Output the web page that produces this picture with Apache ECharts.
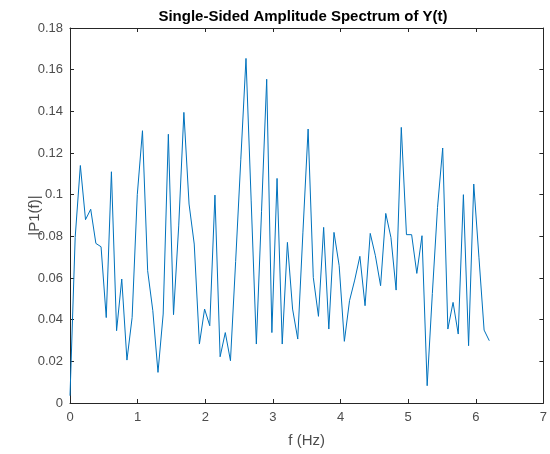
<!DOCTYPE html>
<html>
<head>
<meta charset="utf-8">
<title>Single-Sided Amplitude Spectrum of Y(t)</title>
<script src="https://cdn.jsdelivr.net/npm/echarts@6/dist/echarts.min.js"></script>
<style>
  html, body { margin: 0; padding: 0; background: #fff; }
  #chart { width: 550px; height: 454px; }
</style>
</head>
<body>
<div id="chart"></div>
<script>
// frequency step of the one-sided spectrum (82 bins, 0 .. 6.2 Hz)
var binCount = 82;
var df = 6.2 / 81;

// |P1(f)|, one value per bin
var amps = [
  0.0035, 0.0795, 0.114, 0.088, 0.093, 0.0766, 0.075, 0.041, 0.111, 0.0347,
  0.0595, 0.0206, 0.041, 0.100, 0.1307, 0.0635, 0.0443, 0.0147, 0.0427, 0.129,
  0.0424, 0.085, 0.1395, 0.0955, 0.0763, 0.0283, 0.0451, 0.0371, 0.0998, 0.0222,
  0.0338, 0.0203, 0.068, 0.117, 0.1654, 0.097, 0.0283, 0.0918, 0.1554, 0.0338,
  0.1078, 0.0283, 0.0771, 0.0451, 0.0307, 0.082, 0.1315, 0.0603, 0.0416, 0.0843,
  0.0355, 0.0819, 0.0659, 0.0296, 0.0491, 0.059, 0.0704, 0.0467, 0.0814, 0.0707,
  0.0563, 0.091, 0.0795, 0.0542, 0.1323, 0.0808, 0.0808, 0.0622, 0.0803, 0.0083,
  0.0526, 0.0939, 0.1224, 0.0355, 0.0483, 0.0331, 0.100, 0.0275, 0.1051, 0.070,
  0.035, 0.0299
];

// axis ranges / ticks
var xRange = [0, 7];
var xStep = 1;
var yRange = [0, 0.18];
var yStep = 0.02;

var FONT = '"Liberation Sans", Arial, Helvetica, sans-serif';
var AXIS_COLOR = '#262626';
var LABEL_COLOR = '#4d4d4d';

var points = [];
for (var i = 0; i < binCount; i++) {
  points.push([i * df, amps[i]]);
}

// MATLAB style box: inward ticks on all four sides
function boxAxis(pos, range, step, isMain) {
  return {
    type: 'value',
    position: pos,
    min: range[0],
    max: range[1],
    interval: step,
    axisLine: { show: true, onZero: false, lineStyle: { color: AXIS_COLOR, width: 1 } },
    axisTick: { show: true, inside: true, length: 4, lineStyle: { color: AXIS_COLOR } },
    axisLabel: { show: isMain },
    splitLine: { show: false }
  };
}

var xMain = boxAxis('bottom', xRange, xStep, true);
xMain.axisLabel = { show: true, color: LABEL_COLOR, fontSize: 13, fontFamily: FONT, margin: 8 };
xMain.name = 'f (Hz)';
xMain.nameLocation = 'middle';
xMain.nameGap = 30;
xMain.nameMoveOverlap = false;
xMain.nameTextStyle = { color: LABEL_COLOR, fontSize: 15, fontFamily: FONT };

var yMain = boxAxis('left', yRange, yStep, true);
yMain.axisLabel = {
  show: true, color: LABEL_COLOR, fontSize: 13, fontFamily: FONT, margin: 7,
  formatter: function (v) { return String(+v.toFixed(2)); }
};
yMain.name = '|P1(f)|';
yMain.nameLocation = 'middle';
yMain.nameGap = 28;
yMain.nameMoveOverlap = false;
yMain.nameTextStyle = { color: LABEL_COLOR, fontSize: 15, fontFamily: FONT };

var myChart = echarts.init(document.getElementById('chart'));
var option = {
  animation: false,
  backgroundColor: '#fff',
  title: {
    text: 'Single-Sided Amplitude Spectrum of Y(t)',
    left: 298,
    top: 4,
    textAlign: 'center',
    textStyle: { color: '#000', fontSize: 15, fontWeight: 'bold', fontFamily: FONT }
  },
  grid: { left: 70, right: 4, top: 28, bottom: 51, containLabel: false },
  xAxis: [xMain, boxAxis('top', xRange, xStep, false)],
  yAxis: [yMain, boxAxis('right', yRange, yStep, false)],
  series: [{
    type: 'line',
    data: points,
    showSymbol: false,
    lineStyle: { color: '#0072BD', width: 1 },
    itemStyle: { color: '#0072BD' }
  }]
};
myChart.setOption(option);
</script>
</body>
</html>
